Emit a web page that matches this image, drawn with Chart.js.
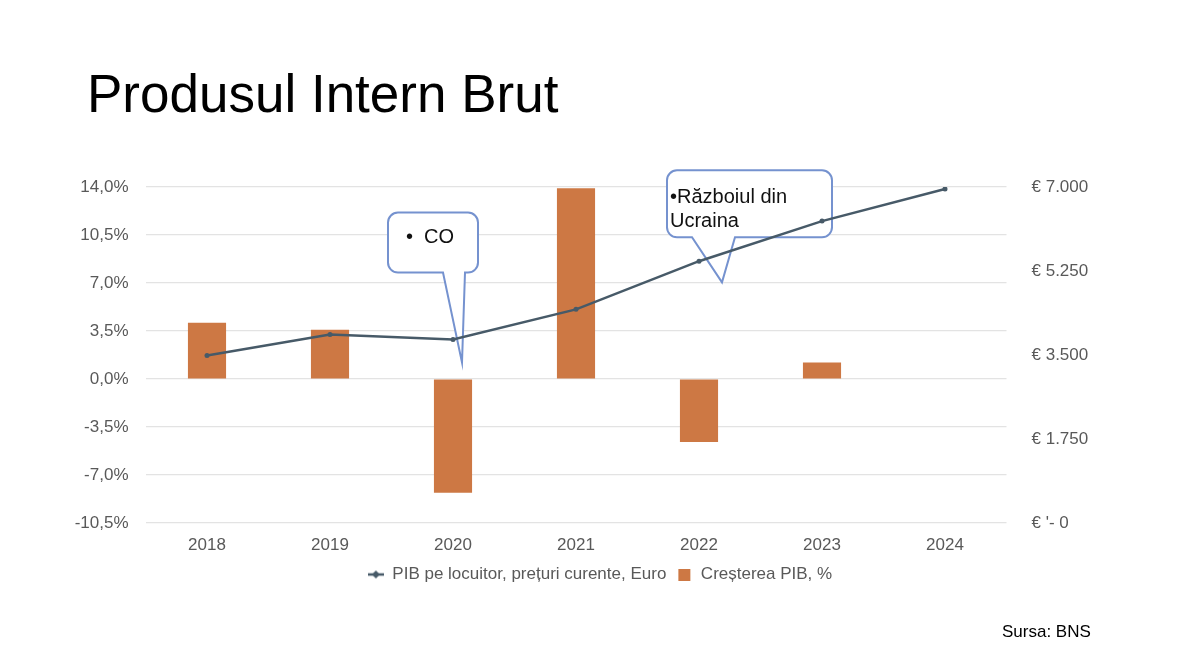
<!DOCTYPE html>
<html>
<head>
<meta charset="utf-8">
<script src="https://cdn.jsdelivr.net/npm/chart.js@4.4.1/dist/chart.umd.min.js"></script>
<style>
  html, body { margin: 0; padding: 0; background: #ffffff; }
  #wrap { position: relative; width: 1200px; height: 665px; overflow: hidden; }
  #c { position: absolute; left: 0; top: 0; }
  #title { position: absolute; left: 87px; top: 67px; font-family: "Liberation Sans", Arial, sans-serif; font-size: 53px; line-height: 53px; color: #000; white-space: nowrap; }
  #src { position: absolute; left: 1002px; top: 623px; font-family: "Liberation Sans", Arial, sans-serif; font-size: 17px; line-height: 17px; color: #000; white-space: nowrap; }
</style>
</head>
<body>
<div id="wrap">
  <canvas id="c" width="1200" height="665"></canvas>
  <div id="title">Produsul Intern Brut</div>
  <div id="src">Sursa: BNS</div>
</div>
<script>
const categories = ['2018', '2019', '2020', '2021', '2022', '2023', '2024'];
const pibPerCapita = [3490, 3928, 3824, 4451, 5454, 6290, 6958];
const pibGrowth = [4.1, 3.6, -8.3, 13.9, -4.6, 1.2, null];
const leftTicks = [-10.5, -7.0, -3.5, 0.0, 3.5, 7.0, 10.5, 14.0];
const rightTicks = [0, 1750, 3500, 5250, 7000];
const seriesNames = ['PIB pe locuitor, prețuri curente, Euro', 'Creșterea PIB, %'];
const callouts = [
  { lines: ['•  CO'], category: 2, value: 3343 },
  { lines: ['•Războiul din', 'Ucraina'], category: 4, value: 5015 }
];

const LINE_COLOR = '#475a68';
const BAR_COLOR = '#cd7844';
const TICK_COLOR = '#595959';
const FONT = '"Liberation Sans", Arial, sans-serif';

function lineMarker() {
  const c = document.createElement('canvas');
  c.width = 16; c.height = 10;
  const g = c.getContext('2d');
  g.strokeStyle = LINE_COLOR; g.lineWidth = 2.5;
  g.beginPath(); g.moveTo(0, 5); g.lineTo(16, 5); g.stroke();
  g.fillStyle = LINE_COLOR;
  g.beginPath(); g.moveTo(8, 1); g.lineTo(12, 5); g.lineTo(8, 9); g.lineTo(4, 5); g.closePath(); g.fill();
  return c;
}
function boxMarker() {
  const c = document.createElement('canvas');
  c.width = 16; c.height = 12;
  const g = c.getContext('2d');
  g.fillStyle = BAR_COLOR;
  g.fillRect(2, 0, 12, 12);
  return c;
}
const markers = [lineMarker(), boxMarker()];

function fmtEuro(v) {
  if (v === 0) return "€ '- 0";
  return '€ ' + Math.round(v).toString().replace(/\B(?=(\d{3})+(?!\d))/g, '.');
}

const calloutPlugin = {
  id: 'callouts',
  beforeDatasetsDraw(chart) {
    const ctx = chart.ctx;
    const xs = chart.scales.x, yr = chart.scales.yR;
    const geo = [
      { dx: 9, box: [-74, -150, 90, 60], base: [-19, 3], text: [[-56, -125]] , r: 10},
      { dx: 23, box: [-55, -112, 165, 67], base: [-30, 13], text: [[-52, -85], [-52, -61]], r: 10 }
    ];
    callouts.forEach((co, i) => {
      const g = geo[i];
      const tx = xs.getPixelForValue(co.category) + g.dx;
      const ty = yr.getPixelForValue(co.value);
      const x0 = tx + g.box[0], y0 = ty + g.box[1], w = g.box[2], h = g.box[3], r = g.r;
      const x1 = x0 + w, y1 = y0 + h;
      const bl = tx + g.base[0], br = tx + g.base[1];
      ctx.save();
      ctx.beginPath();
      ctx.moveTo(x0 + r, y0);
      ctx.lineTo(x1 - r, y0);
      ctx.arcTo(x1, y0, x1, y0 + r, r);
      ctx.lineTo(x1, y1 - r);
      ctx.arcTo(x1, y1, x1 - r, y1, r);
      ctx.lineTo(br, y1);
      ctx.lineTo(tx, ty);
      ctx.lineTo(bl, y1);
      ctx.lineTo(x0 + r, y1);
      ctx.arcTo(x0, y1, x0, y1 - r, r);
      ctx.lineTo(x0, y0 + r);
      ctx.arcTo(x0, y0, x0 + r, y0, r);
      ctx.closePath();
      ctx.fillStyle = '#ffffff';
      ctx.fill();
      ctx.strokeStyle = '#7592cf';
      ctx.lineWidth = 2;
      ctx.stroke();
      ctx.fillStyle = '#111111';
      ctx.font = '20px ' + FONT;
      ctx.textBaseline = 'middle';
      ctx.textAlign = 'left';
      co.lines.forEach((t, k) => {
        const p = g.text[k];
        ctx.fillText(t, tx + p[0], ty + p[1]);
      });
      ctx.restore();
    });
  }
};

new Chart(document.getElementById('c'), {
  data: {
    labels: categories,
    datasets: [
      {
        type: 'line',
        label: seriesNames[0],
        data: pibPerCapita,
        yAxisID: 'yR',
        borderColor: LINE_COLOR,
        backgroundColor: LINE_COLOR,
        borderWidth: 2.5,
        pointRadius: 2.5,
        pointHoverRadius: 2.5,
        pointBackgroundColor: LINE_COLOR,
        pointBorderWidth: 0,
        tension: 0,
        order: 0
      },
      {
        type: 'bar',
        label: seriesNames[1],
        data: pibGrowth,
        yAxisID: 'yL',
        backgroundColor: BAR_COLOR,
        borderWidth: 0,
        barPercentage: 0.31,
        categoryPercentage: 1.0,
        order: 1
      }
    ]
  },
  options: {
    responsive: false,
    animation: false,
    events: [],
    layout: { padding: { top: 187, bottom: 72, left: 0, right: 0 } },
    plugins: {
      title: { display: false },
      tooltip: { enabled: false },
      legend: {
        position: 'bottom',
        labels: {
          color: TICK_COLOR,
          font: { family: FONT, size: 17 },
          usePointStyle: true,
          pointStyleWidth: 16,
          boxHeight: 12,
          padding: 10,
          generateLabels(chart) {
            const items = Chart.defaults.plugins.legend.labels.generateLabels(chart);
            items.forEach((it) => { it.pointStyle = markers[it.datasetIndex]; });
            return items;
          }
        }
      }
    },
    scales: {
      x: {
        grid: { display: false, drawTicks: false },
        border: { display: false },
        ticks: { color: TICK_COLOR, font: { family: FONT, size: 17 }, padding: 12, maxRotation: 0 },
        afterFit(s) { s.height = 33; }
      },
      yL: {
        position: 'left',
        min: -10.5,
        max: 14,
        afterBuildTicks(s) { s.ticks = leftTicks.map(v => ({ value: v })); },
        grid: { color: '#e3e3e3', lineWidth: 1.2, drawTicks: false },
        border: { display: false },
        ticks: {
          color: TICK_COLOR,
          font: { family: FONT, size: 17 },
          padding: 17,
          callback: (v) => Number(v).toFixed(1).replace('.', ',') + '%'
        },
        afterFit(s) { s.width = 145.5; }
      },
      yR: {
        position: 'right',
        min: 0,
        max: 7000,
        afterBuildTicks(s) { s.ticks = rightTicks.map(v => ({ value: v })); },
        grid: { display: false, drawTicks: false },
        border: { display: false },
        ticks: {
          color: TICK_COLOR,
          font: { family: FONT, size: 17 },
          padding: 25,
          callback: (v) => fmtEuro(v)
        },
        afterFit(s) { s.width = 193.5; }
      }
    }
  },
  plugins: [calloutPlugin]
});
</script>
</body>
</html>
